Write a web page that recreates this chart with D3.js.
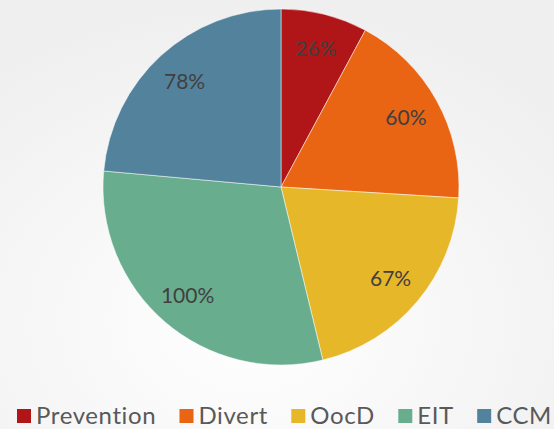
<!DOCTYPE html>
<html>
<head>
<meta charset="utf-8">
<script src="https://cdn.jsdelivr.net/npm/d3@7"></script>
<style>
  body { margin: 0; }
  svg { display: block; }
</style>
</head>
<body>
<div class="chart"></div>
<script>
var categories = ["Prevention", "Divert", "OocD", "EIT", "CCM"];
var values = [26, 60, 67, 100, 78];
var labels = ["26%", "60%", "67%", "100%", "78%"];
var colors = ["#b01517", "#e96413", "#e7b72a", "#69ad8f", "#53839c"];

var width = 554, height = 429;
var cx = 281, cy = 187, radius = 178;

var svg = d3.select(".chart")
    .append("svg")
    .attr("width", width)
    .attr("height", height);

// background
var grad = svg.append("defs")
    .append("radialGradient")
    .attr("id", "bg")
    .attr("cx", "45%")
    .attr("cy", "75%")
    .attr("r", "75%");
grad.append("stop").attr("offset", "0%").attr("stop-color", "#ffffff");
grad.append("stop").attr("offset", "100%").attr("stop-color", "#efefef");

svg.append("rect")
    .attr("width", width)
    .attr("height", height)
    .style("fill", "url(#bg)");

var pie = d3.pie().sort(null).value(function(d) { return d; });
var arcs = pie(values);

var arc = d3.arc().innerRadius(0).outerRadius(radius);
var labelArc = d3.arc().innerRadius(143).outerRadius(143);

var g = svg.append("g")
    .attr("transform", "translate(" + cx + "," + cy + ")");

g.selectAll("path")
    .data(arcs)
  .enter().append("path")
    .attr("d", arc)
    .style("fill", function(d, i) { return colors[i]; })
    .style("stroke", "#ffffff")
    .style("stroke-width", 0.5);

g.selectAll("text")
    .data(arcs)
  .enter().append("text")
    .attr("transform", function(d) { return "translate(" + labelArc.centroid(d) + ")"; })
    .attr("text-anchor", "middle")
    .attr("dy", "0.35em")
    .style("font-family", "Lato, 'DejaVu Sans', sans-serif")
    .style("font-size", "21px")
    .style("fill", "#404040")
    .text(function(d, i) { return labels[i]; });

// legend
var legend = svg.append("g").attr("class", "legend");
var items = legend.selectAll("g")
    .data(categories)
  .enter().append("g");

items.append("rect")
    .attr("width", 14)
    .attr("height", 14)
    .attr("y", 409)
    .style("fill", function(d, i) { return colors[i]; });

items.append("text")
    .attr("x", 19)
    .attr("y", 424)
    .style("font-family", "Lato, 'DejaVu Sans', sans-serif")
    .style("font-size", "24px")
    .style("letter-spacing", "0.6px")
    .style("fill", "#595959")
    .text(function(d) { return d; });

var widths = [];
items.select("text").each(function() { widths.push(19 + this.getComputedTextLength()); });
var startX = 17, endX = 552;
var gap = (endX - startX - d3.sum(widths)) / (categories.length - 1);
var xPos = 0;
items.attr("transform", function(d, i) {
  var x = startX + xPos;
  xPos += widths[i] + gap;
  return "translate(" + x + ",0)";
});
</script>
</body>
</html>
